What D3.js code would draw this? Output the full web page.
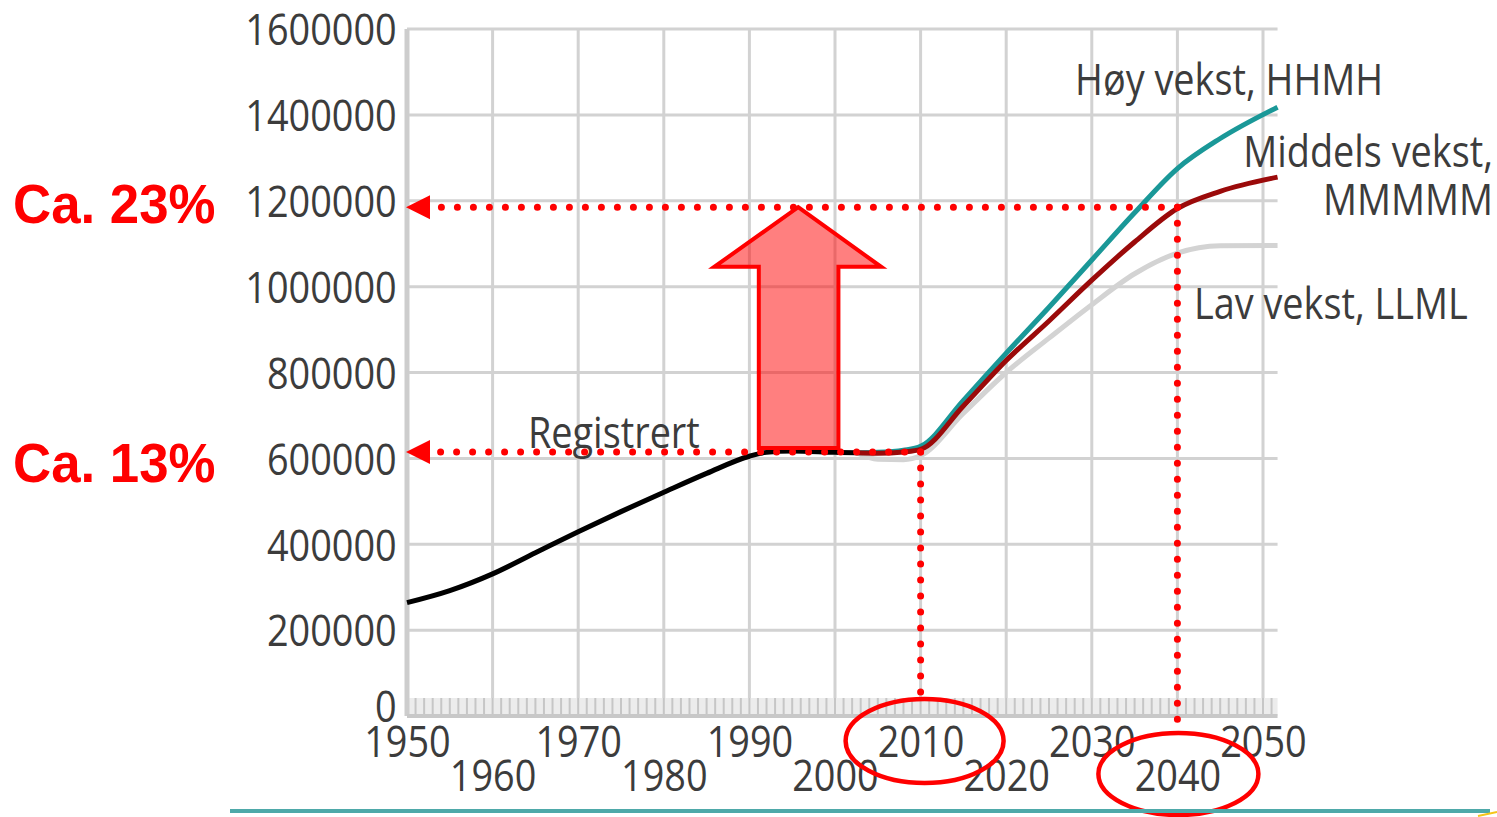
<!DOCTYPE html>
<html><head><meta charset="utf-8">
<script src="https://cdn.jsdelivr.net/npm/d3@7/dist/d3.min.js"></script>
<style>body{margin:0;background:#fff}svg{display:block}</style>
</head><body><svg id="c" width="1497" height="817"></svg>
<script>
// ---- data ----
const regYears   = [1950,1955,1960,1965,1970,1975,1980,1985,1990,1992,1995,2000,2002.5];
const regValues  = [264000,292000,331000,380000,429000,476000,521000,565000,605000,614000,617000,614000,613000];
const projYears  = [2002.5,2005,2008,2010,2015,2020,2025,2030,2035,2040,2045,2051.7];
const highValues = [613000,614000,619000,628000,735000,845000,952000,1062000,1172000,1275000,1345000,1418000];
const midValues  = [613000,612000,615000,621000,722000,828000,920000,1015000,1104000,1182000,1222000,1255000];
const lowValues  = [613000,598000,597000,606000,705000,800000,880000,958000,1030000,1078000,1095000,1096000];
const yTicks = [0,200000,400000,600000,800000,1000000,1200000,1400000,1600000];
const xTicks = [1950,1960,1970,1980,1990,2000,2010,2020,2030,2040,2050];
const seriesLabels = ["Høy vekst, HHMH","Middels vekst,","MMMMM","Lav vekst, LLML","Registrert"];
const annoTexts  = ["Ca. 23%","Ca. 13%"];
const annoLevels = [1185000, 615000];
const annoYears  = [2040, 2010];
// block arrow in data units
const arrowTipYear = 1995.7, arrowShaft = [1991.1,2000.4], arrowHead = [1985.9,2005.4];
const arrowVals = {top:1185000, headBase:1046000, bottom:624000};

// ---- scales ----
const svg = d3.select("#c");
const x = d3.scaleLinear().domain([1950,2050]).range([407,1263]);
const y = d3.scaleLinear().domain([0,1600000]).range([716,29]);
const xMax = 2051.7;
const SQ = 0.86;
const txtCol = "#3c3c3c";
const font = "'Open Sans', sans-serif";

svg.append("rect").attr("width",1497).attr("height",817).attr("fill","#fff");

// gridlines
const grid = svg.append("g").attr("stroke","#d2d2d2").attr("stroke-width",3);
grid.selectAll(".h").data(yTicks.slice(1)).join("line")
  .attr("x1",x(1950)).attr("x2",x(xMax)).attr("y1",d=>y(d)).attr("y2",d=>y(d));
grid.selectAll(".v").data(xTicks.slice(1)).join("line")
  .attr("x1",d=>x(d)).attr("x2",d=>x(d)).attr("y1",y(1600000)).attr("y2",y(0));

// minor year ticks band
const minor = svg.append("g");
minor.append("rect").attr("x",x(1950)).attr("y",y(0)-18).attr("width",x(xMax)-x(1950)).attr("height",18).attr("fill","#ececec");
minor.selectAll("line").data(d3.range(1951,2052)).join("line")
  .attr("x1",d=>x(d)).attr("x2",d=>x(d)).attr("y1",y(0)-18).attr("y2",y(0))
  .attr("stroke","#c6c6c6").attr("stroke-width",2);

// axis lines
svg.append("line").attr("x1",x(1950)).attr("x2",x(1950)).attr("y1",y(1600000)).attr("y2",y(0))
  .attr("stroke","#cdcdcd").attr("stroke-width",5);
svg.append("line").attr("x1",x(1950)).attr("x2",x(xMax)).attr("y1",y(0)).attr("y2",y(0))
  .attr("stroke","#c8c8c8").attr("stroke-width",4);

// y axis labels
const ya = svg.append("g").attr("transform",`translate(${x(1950)},0)`)
  .call(d3.axisLeft(y).tickValues(yTicks).tickSize(0).tickPadding(12).tickFormat(d3.format("d")));
ya.select(".domain").remove();
ya.selectAll("text").attr("font-family",font).attr("font-size",44).attr("fill",txtCol)
  .attr("dy","0.36em")
  .attr("transform",d=> d===0 ? `translate(0,-10) scale(${SQ},1)` : `scale(${SQ},1)`);

// x axis labels (two rows)
const xa = svg.append("g").attr("transform",`translate(0,${y(0)})`)
  .call(d3.axisBottom(x).tickValues(xTicks).tickSize(0).tickFormat(d3.format("d")));
xa.select(".domain").remove();
xa.selectAll("text").attr("font-family",font).attr("font-size",44).attr("fill",txtCol)
  .attr("dy",0).attr("y",(d,i)=> i%2===0 ? 41 : 75)
  .attr("transform",`scale(${SQ},1)`);

// lines
const line = d3.line().curve(d3.curveMonotoneX);
const mk = (xs,vs)=> xs.map((t,i)=>[x(t),y(vs[i])]);
svg.append("path").attr("d",line(mk(projYears,lowValues))).attr("fill","none").attr("stroke","#d3d3d3").attr("stroke-width",5);
svg.append("path").attr("d",line(mk(projYears,highValues))).attr("fill","none").attr("stroke","#1a9898").attr("stroke-width",5);
svg.append("path").attr("d",line(mk(projYears,midValues))).attr("fill","none").attr("stroke","#9b0a0a").attr("stroke-width",5);
svg.append("path").attr("d",line(mk(regYears,regValues))).attr("fill","none").attr("stroke","#000").attr("stroke-width",5);

// series labels
function lab(t,px,py,anchor){
  svg.append("text").text(t).attr("font-family",font).attr("font-size",44).attr("fill",txtCol)
    .attr("text-anchor",anchor).attr("transform",`translate(${px},${py}) scale(${SQ},1)`);
}
lab(seriesLabels[0],1075,95,"start");
lab(seriesLabels[1],1493,167,"end");
lab(seriesLabels[2],1493,215,"end");
lab(seriesLabels[3],1194,319,"start");
lab(seriesLabels[4],528,448,"start");

// ---- red annotations ----
const red = "#ff0000";
const ann = svg.append("g");
annoLevels.forEach((v,i)=>{
  const yy = y(v);
  ann.append("line").attr("x1",x(annoYears[i])).attr("x2",436).attr("y1",yy).attr("y2",yy)
    .attr("stroke",red).attr("stroke-width",7).attr("stroke-linecap","round").attr("stroke-dasharray","0 16");
  ann.append("path").attr("d",`M${x(1950)-1},${yy} L${x(1950)+23},${yy-12} L${x(1950)+23},${yy+12} Z`).attr("fill",red);
});
// vertical dotted
ann.append("line").attr("x1",x(2010)).attr("x2",x(2010)).attr("y1",y(615000)).attr("y2",y(0)-22)
  .attr("stroke",red).attr("stroke-width",7).attr("stroke-linecap","round").attr("stroke-dasharray","0 16");
ann.append("line").attr("x1",x(2040)).attr("x2",x(2040)).attr("y1",y(1185000)).attr("y2",y(0)+10)
  .attr("stroke",red).attr("stroke-width",7).attr("stroke-linecap","round").attr("stroke-dasharray","0 16");

// block arrow
const ap = [
  [x(arrowTipYear),y(arrowVals.top)],
  [x(arrowHead[1]),y(arrowVals.headBase)],
  [x(arrowShaft[1]),y(arrowVals.headBase)],
  [x(arrowShaft[1]),y(arrowVals.bottom)],
  [x(arrowShaft[0]),y(arrowVals.bottom)],
  [x(arrowShaft[0]),y(arrowVals.headBase)],
  [x(arrowHead[0]),y(arrowVals.headBase)]
];
ann.append("path").attr("d","M"+ap.map(p=>p.join(",")).join("L")+"Z")
  .attr("fill","rgba(255,0,0,0.5)").attr("stroke",red).attr("stroke-width",4).attr("stroke-linejoin","miter");

// ellipses
ann.append("ellipse").attr("cx",x(2010)+4).attr("cy",741).attr("rx",79).attr("ry",42)
  .attr("fill","none").attr("stroke",red).attr("stroke-width",4.5);
ann.append("ellipse").attr("cx",x(2040)+1).attr("cy",774).attr("rx",80).attr("ry",41)
  .attr("fill","none").attr("stroke",red).attr("stroke-width",4.5);

// percentage texts
[[annoTexts[0],223],[annoTexts[1],482]].forEach(([t,py])=>{
  svg.append("text").text(t).attr("font-family","'Liberation Sans', Arial, sans-serif").attr("font-weight","bold")
    .attr("font-size",55).attr("fill",red).attr("transform",`translate(13,${py}) scale(0.96,1)`);
});

// bottom teal rule
svg.append("line").attr("x1",230).attr("x2",1490).attr("y1",811).attr("y2",811).attr("stroke","#4ea9a9").attr("stroke-width",4);
svg.append("line").attr("x1",1478).attr("x2",1497).attr("y1",816).attr("y2",812).attr("stroke","#f5c518").attr("stroke-width",2);
</script></body></html>
